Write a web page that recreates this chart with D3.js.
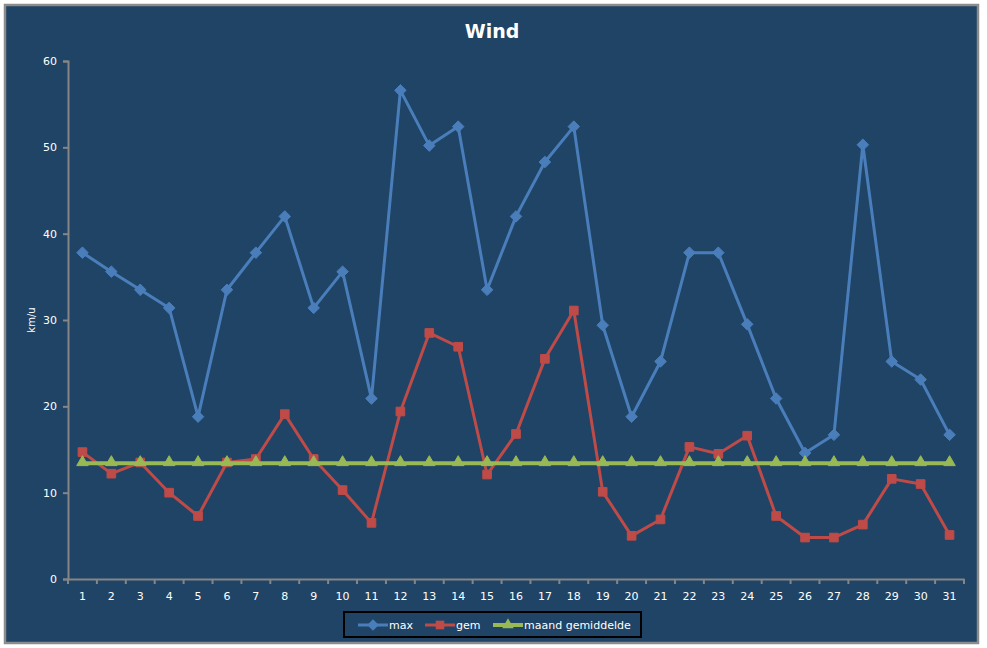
<!DOCTYPE html>
<html>
<head>
<meta charset="utf-8">
<script src="https://cdn.jsdelivr.net/npm/d3@7"></script>
<style>
  html, body { margin: 0; padding: 0; background: #fff; }
  svg { display: block; }
</style>
</head>
<body>
<div id="chart"></div>
<script>
// day numbers on the x axis
const days = d3.range(1, 32).map(String);
// km/u per day
const maxValues = [37.8, 35.6, 33.5, 31.4, 18.8, 33.5, 37.8, 42.0, 31.4, 35.6,
  20.9, 56.6, 50.2, 52.4, 33.5, 42.0, 48.3, 52.4, 29.4, 18.8,
  25.2, 37.8, 37.8, 29.5, 20.9, 14.6, 16.7, 50.3, 25.2, 23.1, 16.7];
const gemValues = [14.7, 12.2, 13.5, 10.0, 7.3, 13.5, 13.9, 19.1, 13.9, 10.3,
  6.5, 19.4, 28.5, 26.9, 12.1, 16.8, 25.5, 31.1, 10.1, 5.0,
  6.9, 15.3, 14.5, 16.6, 7.3, 4.8, 4.8, 6.3, 11.6, 11.0, 5.1];
const maandValues = [13.4, 13.4, 13.4, 13.4, 13.4, 13.4, 13.4, 13.4, 13.4, 13.4,
  13.4, 13.4, 13.4, 13.4, 13.4, 13.4, 13.4, 13.4, 13.4, 13.4,
  13.4, 13.4, 13.4, 13.4, 13.4, 13.4, 13.4, 13.4, 13.4, 13.4, 13.4];
const yTicks = [0, 10, 20, 30, 40, 50, 60];

const series = [
  { name: "max", values: maxValues, color: "#4a7ebb", width: 3, marker: "diamond" },
  { name: "gem", values: gemValues, color: "#be4b48", width: 3, marker: "square" },
  { name: "maand gemiddelde", values: maandValues, color: "#98b954", width: 4, marker: "triangle" }
];

function drawChart() {
  const width = 987, height = 648;
  const margin = { left: 68, right: 23, top: 61, bottom: 69 };
  const font = "'DejaVu Sans', Verdana, sans-serif";

  const svg = d3.select("#chart").append("svg")
      .attr("width", width)
      .attr("height", height);

  // chart area with grey frame
  svg.append("rect")
      .attr("x", 5).attr("y", 5)
      .attr("width", 973).attr("height", 638)
      .attr("fill", "#1f4466")
      .attr("stroke", "#8c8c8c")
      .attr("stroke-width", 2.5);

  svg.append("text")
      .attr("x", 492).attr("y", 38)
      .attr("text-anchor", "middle")
      .attr("fill", "#fff")
      .attr("font-family", font)
      .attr("font-weight", "bold")
      .attr("font-size", 19)
      .text("Wind");

  const x = d3.scaleBand()
      .domain(days)
      .range([margin.left, width - margin.right]);

  const y = d3.scaleLinear()
      .domain([0, 60])
      .range([height - margin.bottom, margin.top]);

  // axes
  const xAxis = svg.append("g")
      .attr("transform", `translate(0,${y(0)})`)
      .call(d3.axisBottom(x).tickSize(0).tickPadding(13));
  // ticks at category boundaries
  xAxis.selectAll(".bound")
    .data(d3.range(days.length + 1))
    .join("line")
      .attr("class", "bound")
      .attr("x1", i => x.range()[0] + i * x.step())
      .attr("x2", i => x.range()[0] + i * x.step())
      .attr("y1", 0).attr("y2", 5);

  const yAxis = svg.append("g")
      .attr("transform", `translate(${margin.left},0)`)
      .call(d3.axisLeft(y).tickValues(yTicks).tickSize(5).tickPadding(6));

  [xAxis, yAxis].forEach(g => {
    g.select(".domain").attr("stroke", "#868686").attr("stroke-width", 2);
    g.selectAll("line").attr("stroke", "#868686").attr("stroke-width", 2);
    g.selectAll("text")
        .attr("fill", "#fff")
        .attr("font-family", font)
        .attr("font-size", 11);
  });

  svg.append("text")
      .attr("transform", "translate(35,320) rotate(-90)")
      .attr("text-anchor", "middle")
      .attr("fill", "#fff")
      .attr("font-family", font)
      .attr("font-size", 10)
      .text("km/u");

  const cx = i => x(days[i]) + x.bandwidth() / 2;

  const symbolFor = {
    diamond: d3.symbol().type(d3.symbolDiamond2).size(85),
    square: d3.symbol().type(d3.symbolSquare2).size(95),
    triangle: d3.symbol().type(d3.symbolTriangle2).size(95)
  };

  const line = d3.line()
      .x((d, i) => cx(i))
      .y(d => y(d));

  series.forEach(s => {
    svg.append("path")
        .datum(s.values)
        .attr("fill", "none")
        .attr("stroke", s.color)
        .attr("stroke-width", s.width)
        .attr("stroke-linejoin", "round")
        .attr("d", line);

    svg.append("g")
      .selectAll("path")
      .data(s.values)
      .join("path")
        .attr("transform", (d, i) => `translate(${cx(i)},${y(d) + (s.marker === "triangle" ? -1 : 0)})`)
        .attr("d", symbolFor[s.marker])
        .attr("fill", s.color)
        .attr("stroke", s.color)
        .attr("stroke-width", 1);
  });

  // legend
  const legend = svg.append("g");
  legend.append("rect")
      .attr("x", 344).attr("y", 612)
      .attr("width", 297).attr("height", 25)
      .attr("fill", "#1f4466")
      .attr("stroke", "#000")
      .attr("stroke-width", 2);

  const legendX = [358, 425, 493];
  series.forEach((s, i) => {
    const lx = legendX[i];
    legend.append("line")
        .attr("x1", lx).attr("x2", lx + 30)
        .attr("y1", 625).attr("y2", 625)
        .attr("stroke", s.color)
        .attr("stroke-width", s.width);
    legend.append("path")
        .attr("transform", `translate(${lx + 15},625)`)
        .attr("d", symbolFor[s.marker])
        .attr("fill", s.color);
    legend.append("text")
        .attr("x", lx + 31).attr("y", 629)
        .attr("fill", "#fff")
        .attr("font-family", font)
        .attr("font-size", 11)
        .text(s.name);
  });
}

drawChart();
</script>
</body>
</html>
